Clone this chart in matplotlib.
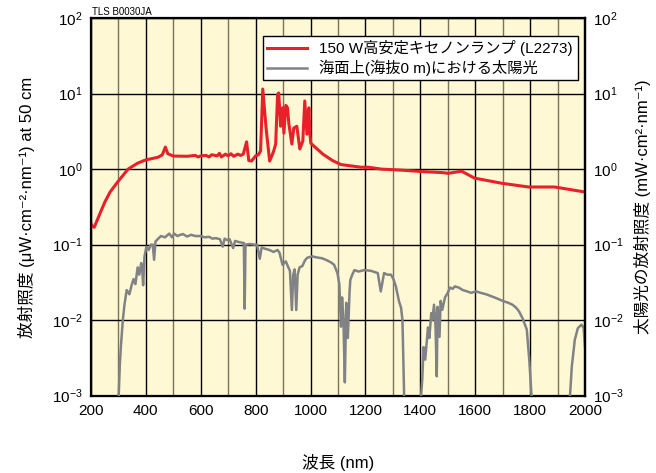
import matplotlib

matplotlib.use("Agg")
import matplotlib.pyplot as plt
import matplotlib.ticker as ticker

plt.rcParams["font.family"] = ["Liberation Sans", "Noto Sans CJK JP", "DejaVu Sans"]
plt.rcParams["mathtext.fontset"] = "custom"
plt.rcParams["mathtext.rm"] = "Liberation Sans"
plt.rcParams["mathtext.it"] = "Liberation Sans:italic"

# 150 W xenon lamp (L2273), uW/cm2/nm at 50 cm
lamp_nm = [
    200, 205, 212, 220, 235, 251, 270, 299, 335, 370, 398, 445, 460, 471, 480,
    500, 550, 580, 590, 600, 620, 630, 640, 660, 668, 675, 690, 700, 710, 720,
    735, 745, 755, 767, 775, 785, 800, 810, 818, 826, 838, 851, 865, 873, 880,
    884, 891, 898, 903, 910, 916, 921, 932, 939, 950, 961, 972, 979, 987, 994,
    998, 1001, 1045, 1080, 1111, 1184, 1210, 1260, 1331, 1404, 1480, 1502, 1550,
    1598, 1697, 1795, 1850, 1890, 1997, 2000,
]
lamp_val = [
    0.19, 0.175, 0.17, 0.2, 0.27, 0.37, 0.5, 0.69, 1.0, 1.2, 1.32, 1.44, 1.55,
    1.96, 1.6, 1.49, 1.48, 1.52, 1.45, 1.5, 1.52, 1.45, 1.55, 1.5, 1.62, 1.45,
    1.58, 1.5, 1.6, 1.48, 1.58, 1.52, 1.58, 2.3, 1.3, 1.28, 1.5, 1.55, 1.74,
    11.5, 3.5, 1.28, 1.7, 2.15, 9.8, 10.2, 3.7, 6.5, 3.0, 7.0, 6.5, 4.0, 2.15,
    3.5, 3.7, 1.85, 2.36, 8.0, 2.9, 6.5, 2.9, 2.2, 1.58, 1.3, 1.15, 1.06, 1.06,
    1.0, 0.97, 0.93, 0.9, 0.88, 0.94, 0.76, 0.65, 0.58, 0.58, 0.58, 0.5, 0.5,
]

# solar irradiance at sea level, mW/cm2/nm (values below 1e-3 fall off the plot)
sun_nm = [
    300, 305, 309, 316, 322, 330, 340, 348, 355, 362, 370, 376, 383, 387, 390,
    395, 402, 410, 418, 425, 430, 435, 445, 455, 470, 485, 495, 503, 515, 523,
    535, 550, 565, 580, 600, 615, 630, 643, 655, 670, 680, 687, 695, 705, 718,
    725, 740, 757, 760, 763, 780, 795, 805, 815, 822, 835, 850, 865, 880, 887,
    898, 910, 917, 925, 932, 937, 942, 948, 953, 960, 970, 980, 988, 1006, 1020,
    1042, 1060, 1075, 1086, 1098, 1105, 1111, 1115, 1120, 1125, 1130, 1136,
    1142, 1145, 1152, 1160, 1175, 1196, 1220, 1245, 1256, 1268, 1280, 1293,
    1302, 1311, 1322, 1330, 1335, 1342, 1400, 1407, 1412, 1418, 1424, 1428,
    1433, 1440, 1444, 1450, 1455, 1460, 1463, 1470, 1474, 1480, 1490, 1500,
    1508, 1518, 1526, 1540, 1555, 1571, 1585, 1603, 1620, 1640, 1655, 1670,
    1685, 1700, 1720, 1736, 1750, 1760, 1773, 1788, 1797, 1808, 1943, 1952,
    1963, 1974, 1987, 1995, 2000,
]
sun_val = [
    0.0008, 0.0025, 0.0045, 0.01, 0.016, 0.025, 0.022, 0.029, 0.035, 0.03, 0.05,
    0.04, 0.057, 0.045, 0.029, 0.07, 0.094, 0.085, 0.1, 0.1, 0.063, 0.11, 0.12,
    0.13, 0.125, 0.14, 0.125, 0.14, 0.13, 0.134, 0.138, 0.128, 0.135, 0.13,
    0.13, 0.125, 0.127, 0.12, 0.122, 0.118, 0.094, 0.12, 0.115, 0.118, 0.09,
    0.112, 0.108, 0.105, 0.0142, 0.1, 0.102, 0.1, 0.1, 0.065, 0.092, 0.088,
    0.085, 0.08, 0.085, 0.078, 0.054, 0.06, 0.052, 0.045, 0.0136, 0.04, 0.047,
    0.0136, 0.04, 0.05, 0.052, 0.062, 0.067, 0.07, 0.068, 0.066, 0.062, 0.058,
    0.054, 0.042, 0.03, 0.0082, 0.02, 0.01, 0.0015, 0.017, 0.0058, 0.023,
    0.034, 0.04, 0.046, 0.044, 0.046, 0.045, 0.042, 0.024, 0.042, 0.04, 0.04,
    0.035, 0.028, 0.018, 0.0145, 0.01, 0.0007, 0.0007, 0.0016, 0.0044, 0.003,
    0.0055, 0.008, 0.0058, 0.0124, 0.01, 0.016, 0.0093, 0.0018, 0.015, 0.006,
    0.018, 0.0137, 0.02, 0.023, 0.027, 0.026, 0.028, 0.027, 0.025, 0.024,
    0.023, 0.024, 0.023, 0.022, 0.021, 0.02, 0.019, 0.018, 0.017, 0.016,
    0.0145, 0.013, 0.0105, 0.0075, 0.003, 0.0007, 0.0007, 0.0024, 0.0055,
    0.0078, 0.0087, 0.008, 0.0045,
]

x_ticks = [200, 400, 600, 800, 1000, 1200, 1400, 1600, 1800, 2000]

fig = plt.figure(figsize=(6.56, 4.73), dpi=100)
ax = fig.add_axes([0.1387, 0.1636, 0.753, 0.798])
ax.set_facecolor("#fef8d4")

ax.plot(lamp_nm, lamp_val, color="#e8202a", lw=2.2, label="150 W高安定キセノンランプ (L2273)", zorder=3)
ax.plot(sun_nm, sun_val, color="#808285", lw=1.8, label="海面上(海抜0 m)における太陽光", zorder=3)

ax.set_xlim(200, 2000)
ax.set_yscale("log")
ax.set_ylim(1e-3, 1e2)

# Grid: black at labelled wavelengths and decades, brownish at odd hundreds.
ax.set_xticks(x_ticks)
ax.xaxis.set_minor_locator(ticker.MultipleLocator(100))
ax.yaxis.set_major_locator(ticker.LogLocator(base=10, numticks=10))
ax.yaxis.set_minor_locator(ticker.NullLocator())
ax.grid(True, which="major", color="black", lw=1.0, zorder=1)
ax.grid(True, which="minor", axis="x", color="#7d7358", lw=1.0, zorder=1)
ax.set_axisbelow(True)
ax.tick_params(which="both", length=0, labelsize=11, pad=6)
for spine in ax.spines.values():
    spine.set_linewidth(1.6)

# Right axis repeats the decade labels.
ax2 = ax.twinx()
ax2.set_yscale("log")
ax2.set_ylim(1e-3, 1e2)
ax2.yaxis.set_major_locator(ticker.LogLocator(base=10, numticks=10))
ax2.yaxis.set_minor_locator(ticker.NullLocator())
ax2.tick_params(which="both", length=0, labelsize=11, pad=6)
ax2.spines["right"].set_linewidth(1.6)

ax.set_xlabel("波長 (nm)", fontsize=12, labelpad=26)
ax.set_ylabel("放射照度 (μW·cm⁻²·nm⁻¹) at 50 cm", fontsize=12, labelpad=12)
ax2.set_ylabel("太陽光の放射照度 (mW·cm²·nm⁻¹)", fontsize=12, labelpad=7)

leg = ax.legend(
    loc="upper right", bbox_to_anchor=(0.985, 0.953), fontsize=11,
    frameon=True, fancybox=False, framealpha=1, edgecolor="black",
    handlelength=2.6, borderpad=0.3, labelspacing=0.2, borderaxespad=0,
)
leg.get_frame().set_linewidth(1.0)

fig.text(0.14, 0.975, "TLS B0030JA", fontsize=7, va="center")

fig.savefig("out.png", dpi=100)
plt.close(fig)
